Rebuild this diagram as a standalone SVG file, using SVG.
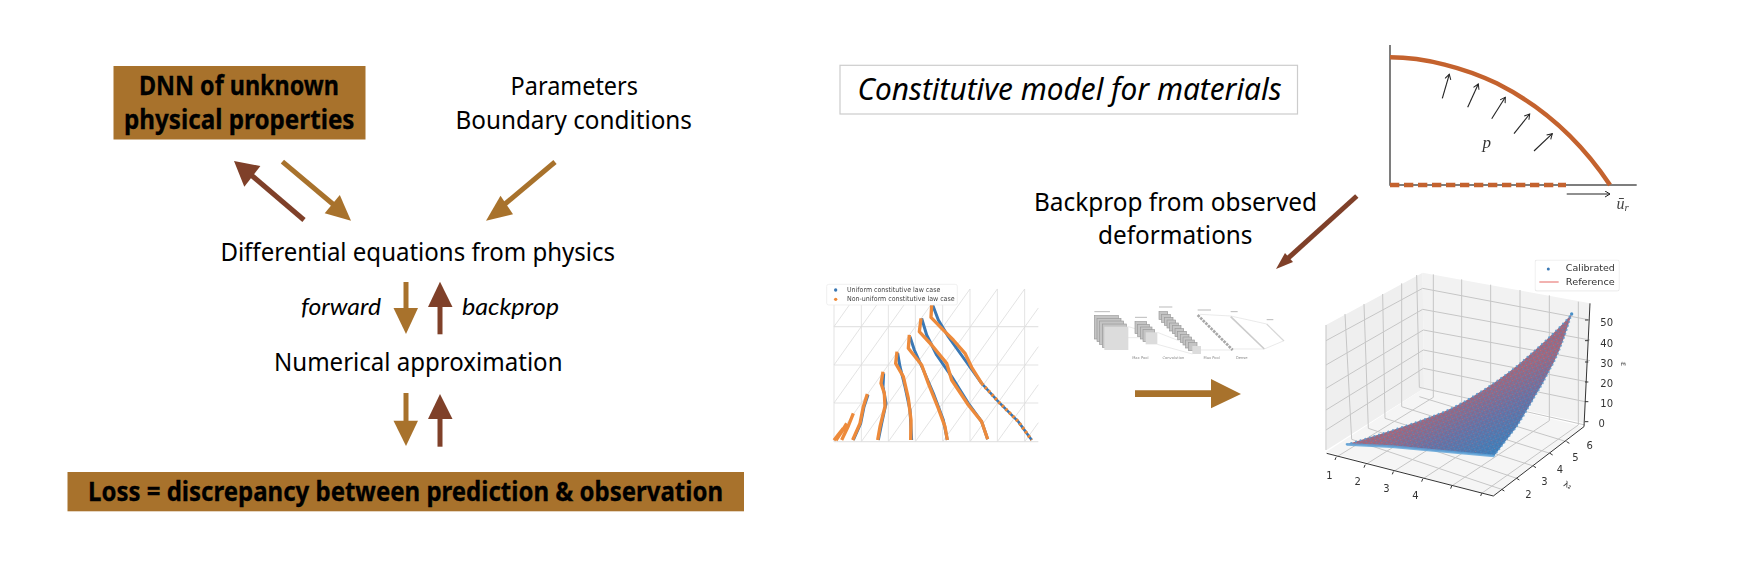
<svg xmlns="http://www.w3.org/2000/svg" width="1744" height="572" viewBox="0 0 1744 572">
<style>
text{font-family:"Noto Sans","Open Sans","Liberation Sans",sans-serif;fill:#000}
.t{font-size:26px}
.b{font-size:27px;font-weight:700;stroke:#000;stroke-width:.3}
.i{font-size:23px;font-style:italic;font-family:Lato,"Noto Sans",sans-serif}
.tan{fill:#a8722c}
.dark{fill:#7f4029}
.lt{stroke:#a8722c;stroke-width:5;fill:none}
.ld{stroke:#7f4029;stroke-width:5;fill:none}
.g{stroke:#dcdcdc;stroke-width:2.4;fill:none}
.gh{stroke:#e4e4e4;stroke-width:3.5;fill:none}
.o{stroke:#ed8a3a;stroke-width:10;fill:none;stroke-linejoin:round}
.bl{stroke:#3a78b4;stroke-width:9;fill:none;stroke-linejoin:round}
.s{font-size:30px;fill:#333;font-family:"DejaVu Sans",sans-serif;text-anchor:middle}
.w{stroke:#c6c6c6;stroke-width:3;fill:none}
.ax{stroke:#333;stroke-width:3;fill:none}
.c{fill:#c4c4c4;stroke:#9a9a9a;stroke-width:2}
.f{fill:#dcdcdc}
.tiny{font-size:11px;fill:#888;font-family:"DejaVu Sans",sans-serif;text-anchor:middle}
.bar{stroke:#bbb;stroke-width:3;fill:none}
</style>
<defs>
<marker id="ma" markerUnits="userSpaceOnUse" markerWidth="9" markerHeight="9" refX="6" refY="3.500" orient="auto"><path d="M1,0.500L6,3.500L1,6.500" fill="none" stroke="#222" stroke-width="1"/></marker>
<filter id="bl0" x="-5%" y="-5%" width="110%" height="110%"><feGaussianBlur stdDeviation="0.35"/></filter>
<filter id="bl1" x="-5%" y="-5%" width="110%" height="110%"><feGaussianBlur stdDeviation="0.6"/></filter>
<filter id="bl2" x="-5%" y="-5%" width="110%" height="110%"><feGaussianBlur stdDeviation="1.200"/></filter>
<linearGradient id="sg" gradientUnits="userSpaceOnUse" x1="450" y1="460" x2="540" y2="638"><stop offset="0" stop-color="#a56478"/><stop offset="0.45" stop-color="#6f6c9c"/><stop offset="1" stop-color="#3a7cb8"/></linearGradient>
<pattern id="dots" width="14" height="13" patternUnits="userSpaceOnUse" patternTransform="rotate(-22)"><circle cx="3.500" cy="3.500" r="3" fill="#4a90c8" opacity=".6"/><circle cx="10.500" cy="10" r="3" fill="#4a90c8" opacity=".6"/><circle cx="10.500" cy="3.500" r="1.800" fill="#e87f80" opacity=".45"/></pattern>
</defs>

<g id="connectors">
<path class="ld" d="M304,220L250,174"/><path class="dark" d="M234,161L260.400,166L244.300,186.700Z"/>
<path class="lt" d="M282.400,161.700L334,205"/><path class="tan" d="M351,220.700L324.700,213.300L339.800,195Z"/>
<path class="lt" d="M555,162L505,204"/><path class="tan" d="M486,220.700L513,214.300L500.500,195.700Z"/>
<path class="lt" d="M406,282V310"/><path class="tan" d="M393.500,308H418L406,334Z"/>
<path class="ld" d="M440,334.300V306"/><path class="dark" d="M428,307H452.500L440,281.700Z"/>
<path class="lt" d="M406,393V422"/><path class="tan" d="M393.500,420.700H418L406,446Z"/>
<path class="ld" d="M440,446.700V418"/><path class="dark" d="M428,419H452.500L440,394Z"/>
<path class="ld" d="M1356.800,196L1285,261" stroke-width="4"/><path class="dark" d="M1276,269L1285,253L1293,262Z"/>
<path class="tan" d="M1135,390.300H1211V379L1241,394L1211,408.300V397H1135Z"/>
</g>

<g id="dnn"><rect x="113.500" y="66" width="252" height="73.500" class="tan"/>
<text class="b" x="139" y="95" textLength="200" lengthAdjust="spacingAndGlyphs">DNN of unknown</text>
<text class="b" x="124" y="129" textLength="230.500" lengthAdjust="spacingAndGlyphs">physical properties</text></g>
<g id="params">
<text class="t" x="510.600" y="95" textLength="127.400" lengthAdjust="spacingAndGlyphs">Parameters</text>
<text class="t" x="455.500" y="129" textLength="236.500" lengthAdjust="spacingAndGlyphs">Boundary conditions</text></g>
<g id="pde"><text class="t" x="220.400" y="260.700" textLength="394.600" lengthAdjust="spacingAndGlyphs">Differential equations from physics</text></g>
<g id="labels">
<text class="i" x="301" y="315" textLength="80" lengthAdjust="spacingAndGlyphs">forward</text>
<text class="i" x="462" y="315" textLength="97" lengthAdjust="spacingAndGlyphs">backprop</text></g>
<g id="num"><text class="t" x="274" y="371" textLength="288.500" lengthAdjust="spacingAndGlyphs">Numerical approximation</text></g>
<g id="loss"><rect x="67.500" y="472" width="676.500" height="39.300" class="tan"/>
<text class="b" x="88" y="501" textLength="635" lengthAdjust="spacingAndGlyphs">Loss = discrepancy between prediction &amp; observation</text></g>

<g id="title"><rect x="840" y="65.300" width="457.500" height="48.700" fill="#fff" stroke="#ccc" stroke-width="1.200"/>
<text class="t" x="857.600" y="100" textLength="424" lengthAdjust="spacingAndGlyphs" style="font-style:italic;font-size:31px">Constitutive model for materials</text></g>
<g id="backprop-note">
<text class="t" x="1034" y="211" textLength="283" lengthAdjust="spacingAndGlyphs">Backprop from observed</text>
<text class="t" x="1098" y="244" textLength="154.500" lengthAdjust="spacingAndGlyphs">deformations</text></g>

<g id="plate" filter="url(#bl0)">
<path d="M1390,45V185H1636.700" fill="none" stroke="#555" stroke-width="1.500"/>
<path d="M1390,57.300C1425,57.300 1465,68 1496.700,83.300C1540,105 1580,140 1610,185" fill="none" stroke="#c4622d" stroke-width="4.500"/>
<path d="M1390,185H1566" stroke="#c4622d" stroke-width="4.500" stroke-dasharray="9.300 4.700" fill="none"/>
<g stroke="#222" stroke-width="1.100" fill="none">
<path d="M1442.300,98.300L1449.300,74.300" marker-end="url(#ma)"/><path d="M1467.700,107.300L1478.300,84" marker-end="url(#ma)"/><path d="M1491.700,118.700L1505.300,97.300" marker-end="url(#ma)"/><path d="M1514,133.700L1529.700,114" marker-end="url(#ma)"/><path d="M1534,151L1552.300,133.700" marker-end="url(#ma)"/><path d="M1566.700,194H1610" marker-end="url(#ma)"/>
</g>
<text x="1482.500" y="148" style="font-family:'Liberation Serif',serif;font-style:italic;font-size:17px;fill:#333">p</text>
<text x="1616.500" y="209" style="font-family:'Liberation Serif',serif;font-style:italic;font-size:16px;fill:#444">ū<tspan dy="2" font-size="11">r</tspan></text>
</g>

<g id="chart-left" transform="translate(810 270) scale(.33333)" filter="url(#bl1)">
<path class="g" d="M72,105V515M154,105V515M235,105V515M316,105V515M398,57V515M480,57V515M562,57V515M644,57V515"/>
<path class="gh" d="M72,170H685M72,285H685M72,399H685M72,515H685"/>
<path class="g" d="M72,515L362,105M154,515L480,57M235,515L562,57M316,515L644,57M398,515L685,114M480,515L685,230M562,515L685,344M644,515L685,458M72,399L282,105M72,285L200,105M72,170L118,105"/>
<path class="bl" d="M368,105L385,150L415,200L465,270L515,340"/>
<path class="o" d="M365,105L363,142L395,175L430,210L465,250L485,292L515,340"/>
<path d="M515,340L565,395L625,455L665,510" stroke="#3a78b4" stroke-width="8" fill="none"/>
<path d="M515,340L565,395L625,455L665,510" stroke="#ed8a3a" stroke-width="10" stroke-dasharray="7 8" fill="none"/>
<path class="bl" d="M335,145L350,195L380,255L425,320L475,400L515,455L533,508"/>
<path class="o" d="M333,145L328,185L365,225L410,280L425,330L475,405L515,455L533,508"/>
<path class="bl" d="M300,200L313,240L340,300L370,370L400,450L412,510"/>
<path class="o" d="M298,195L295,235L335,285L355,340L385,415L405,470L412,510"/>
<path class="bl" d="M263,250L270,290L285,350L300,420L305,510"/>
<path class="o" d="M261,245L257,280L280,320L295,385L303,450L302,510"/>
<path class="bl" d="M221,310L219,350L228,400L215,460L205,510"/>
<path class="o" d="M219,305L213,340L223,370L225,410L210,470L203,510"/>
<path class="bl" d="M174,374L162,410L152,460L130,510"/>
<path class="o" d="M172,372L160,410L150,460L128,510"/>
<path class="o" d="M130,430L115,468L95,510M110,460L92,490L78,511M100,475L84,495L72,511"/>
<rect x="50" y="43" width="392" height="62" rx="6" fill="#fff" fill-opacity=".92" stroke="#e8e8e8" stroke-width="2"/>
<circle cx="77" cy="60" r="5" fill="#3a78b4"/><circle cx="77" cy="88" r="5" fill="#ed8a3a"/>
<text x="111" y="66" style="font-size:21px;fill:#444;font-family:'DejaVu Sans',sans-serif" textLength="280" lengthAdjust="spacingAndGlyphs">Uniform constitutive law case</text>
<text x="111" y="94" style="font-size:21px;fill:#444;font-family:'DejaVu Sans',sans-serif" textLength="323" lengthAdjust="spacingAndGlyphs">Non-uniform constitutive law case</text>
</g>

<g id="cnn" transform="translate(1085 295) scale(.33333)" filter="url(#bl2)">
<path d="M80,128H182M130,95L182,110M217,112L322,153M217,148L322,177M345,58L437,63M348,165H443M443,162L538,162M437,63L545,87M538,162L595,138" stroke="#e6e6e6" stroke-width="2.500" fill="none"/>
<path d="M545,87L597,138" stroke="#d8d8d8" stroke-width="3.500" fill="none"/>
<path d="M437,65L538,162" stroke="#cccccc" stroke-width="5" fill="none"/>
<g class="c"><rect x="28" y="62" width="72" height="70"/><rect x="36" y="70" width="72" height="70"/><rect x="44" y="78" width="72" height="70"/><rect x="52" y="87" width="72" height="70"/></g>
<rect x="58" y="95" width="72" height="70" class="f"/>
<g class="c"><rect x="150" y="80" width="35" height="36"/><rect x="158" y="88" width="35" height="36"/><rect x="166" y="96" width="35" height="36"/><rect x="174" y="104" width="35" height="36"/></g>
<rect x="182" y="112" width="35" height="36" class="f"/>
<g class="c"><rect x="222" y="50" width="26" height="24"/><rect x="230" y="58" width="26" height="24"/><rect x="238" y="67" width="26" height="24"/><rect x="246" y="75" width="26" height="24"/><rect x="254" y="84" width="26" height="24"/><rect x="262" y="92" width="26" height="24"/><rect x="270" y="101" width="26" height="24"/><rect x="278" y="109" width="26" height="24"/><rect x="286" y="118" width="26" height="24"/><rect x="294" y="126" width="26" height="24"/><rect x="302" y="135" width="26" height="24"/><rect x="310" y="143" width="26" height="24"/></g>
<rect x="322" y="153" width="26" height="24" class="f"/>
<path d="M338,60L443,165" stroke="#a8a8a8" stroke-width="8" stroke-dasharray="8 3" fill="none"/>
<path class="bar" d="M28,50H75M150,67H186M222,36H262M338,45H378M437,50H458M545,74H565"/>
<text class="tiny" x="166" y="193">Max Pool</text><text class="tiny" x="265" y="193">Convolution</text><text class="tiny" x="380" y="193">Max Pool</text><text class="tiny" x="470" y="193">Dense</text>
</g>

<g id="chart-right" transform="translate(1300 250) scale(.33333)" filter="url(#bl0)">
<path d="M78,225L368,68L372,415L80,600Z" fill="#efefef"/><path d="M368,68L870,160L855,520L372,415Z" fill="#f2f2f2"/><path d="M80,605L372,415L852,530L580,738Z" fill="#f5f5f5"/>
<path class="w" d="M135,192L155,568M192,162L205,535M248,132L255,505M305,100L305,470M350,75L358,412M78,225V600"/>
<path class="w" d="M78,272L368,115M78,345L368,178M78,415L370,240M78,480L370,300M78,540L370,355"/>
<path class="w" d="M400,73L400,442M485,88V462M572,104V480M660,120V497M748,136V512M835,155V525"/>
<path class="w" d="M368,115L870,210M368,178L870,270M370,240L870,332M370,300L860,395M370,355L855,455M358,412L855,525"/>
<path class="w" d="M108,622L400,442M195,645L485,462M280,665L572,480M368,687L660,497M455,708L748,512M545,730L835,525"/>
<path class="w" d="M605,718L155,568M650,685L205,535M700,648L255,505M750,610L305,470M800,575L358,440"/>
<g id="surface">
<path d="M140,583C220,560 330,525 420,490C470,470 510,445 550,420C590,395 630,365 660,340C700,305 770,245 815,192C800,240 785,290 760,340C740,375 730,400 710,430C690,465 670,500 650,530L582,618L275,590Z" fill="url(#sg)"/>
<path d="M140,583C220,560 330,525 420,490C470,470 510,445 550,420C590,395 630,365 660,340C700,305 770,245 815,192C800,240 785,290 760,340C740,375 730,400 710,430C690,465 670,500 650,530L582,618L275,590Z" fill="url(#dots)"/>
<path d="M140,583C220,560 330,525 420,490C470,470 510,445 550,420C590,395 630,365 660,340C700,305 770,245 815,192" fill="none" stroke="#5a9bd0" stroke-width="6" stroke-linecap="round" stroke-dasharray="0.500 14" opacity=".9"/>
<path d="M815,192C800,240 785,290 760,340C740,375 730,400 710,430C690,465 670,500 650,530L582,618" fill="none" stroke="#5a9bd0" stroke-width="6" stroke-linecap="round" stroke-dasharray="0.500 12" opacity=".8"/>
<path d="M582,618L275,590L140,583" fill="none" stroke="#5fa3d8" stroke-width="8" opacity=".85"/>
<circle cx="815" cy="192" r="5" fill="#4a90c8"/>
</g>
<path class="ax" d="M870,160L852,530L580,738L80,610"/>
<path class="ax" stroke-width="2" d="M108,622l-3,8M195,645l-3,8M280,665l-3,8M368,687l-3,8M455,708l-3,8M545,730l-3,8M605,718l8,5M650,685l8,5M700,648l8,5M750,610l8,5M800,575l8,5M865,515h-10M865,455h-10M865,396h-10M865,336h-10M865,272h-10M865,210h-10"/>
<text class="s" x="88" y="686">1</text><text class="s" x="173" y="706">2</text><text class="s" x="259" y="727">3</text><text class="s" x="346" y="748">4</text>
<text class="s" x="685" y="743">2</text><text class="s" x="733" y="705">3</text><text class="s" x="780" y="668">4</text><text class="s" x="826" y="632">5</text><text class="s" x="869" y="598">6</text>
<text class="s" x="905" y="532">0</text><text class="s" x="920" y="472">10</text><text class="s" x="920" y="412">20</text><text class="s" x="920" y="352">30</text><text class="s" x="920" y="290">40</text><text class="s" x="920" y="227">50</text>
<text class="s" transform="translate(800 712) rotate(25)" style="font-size:24px">λ₂</text>
<text class="s" transform="translate(962 342) rotate(90)" style="font-size:24px">ε</text>
<rect x="705" y="30" width="253" height="93" rx="6" fill="#fff" fill-opacity=".92" stroke="#ddd" stroke-width="2"/>
<circle cx="745" cy="57" r="4.500" fill="#3a78b4"/><path d="M718,96H776" stroke="#f0a3a0" stroke-width="5"/>
<text class="s" x="871" y="63" style="font-size:27px" textLength="147" lengthAdjust="spacingAndGlyphs">Calibrated</text><text class="s" x="871" y="105" style="font-size:27px" textLength="147" lengthAdjust="spacingAndGlyphs">Reference</text>
</g>
</svg>
